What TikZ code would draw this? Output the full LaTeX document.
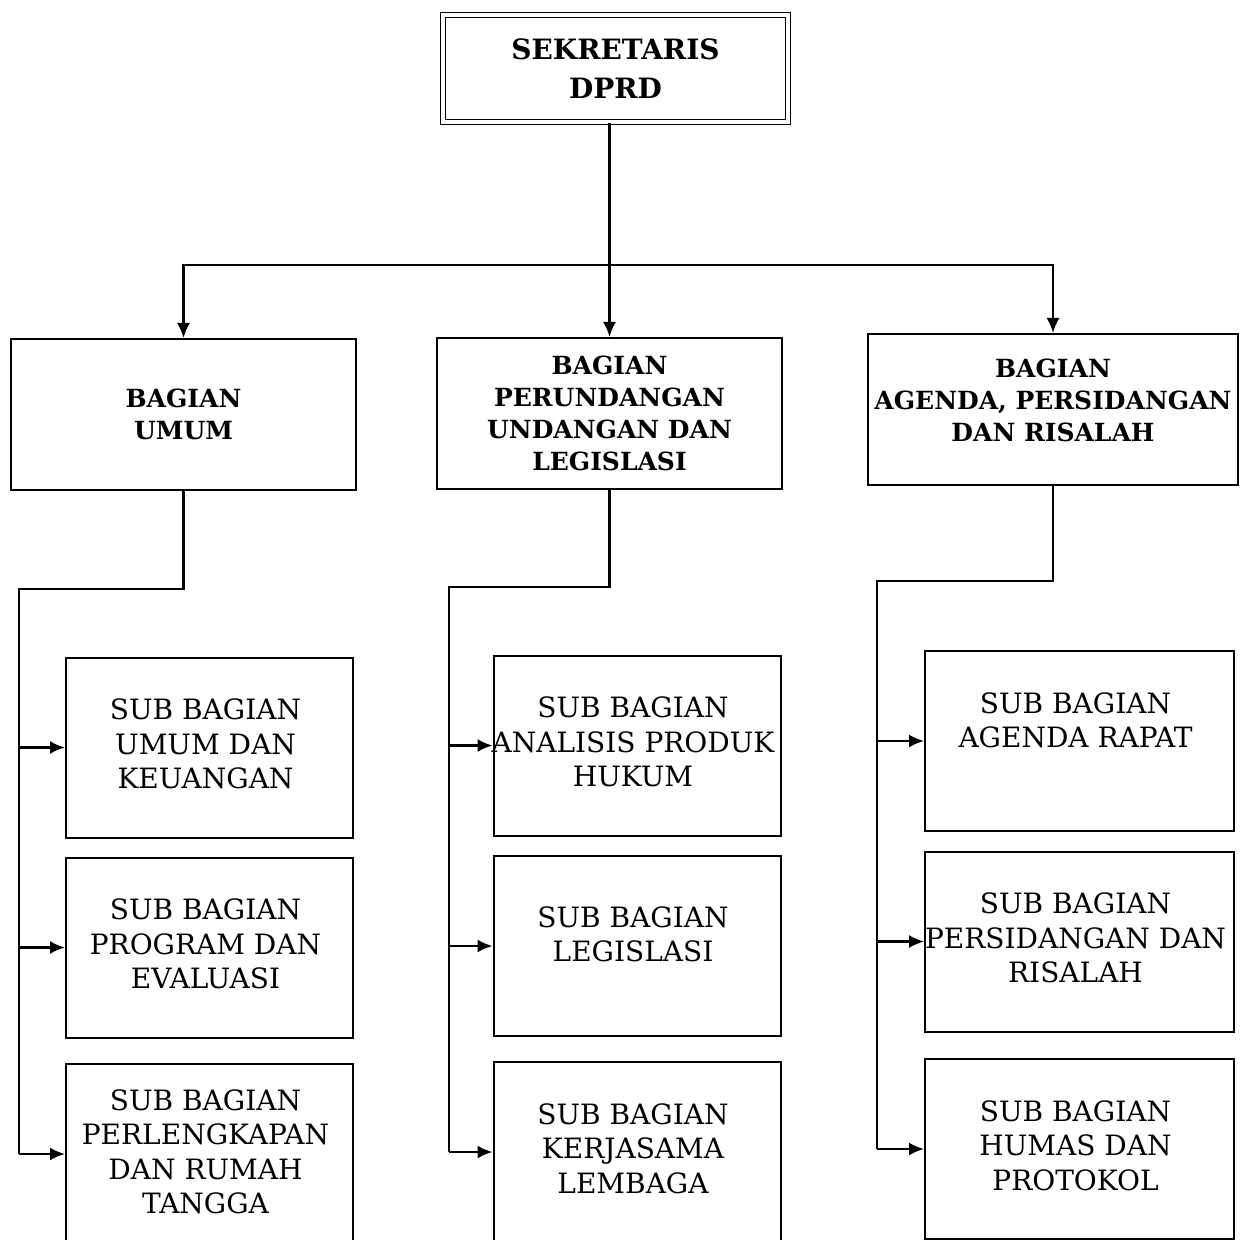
\documentclass[tikz,border=0pt]{standalone}
\usepackage{fontspec}
\setmainfont{DejaVu Serif}
\usetikzlibrary{positioning,arrows.meta}
\tikzset{
  bag/.style={draw, line width=1pt, minimum width=172.5pt, minimum height=75.5pt,
    inner sep=0pt, align=center, font=\bfseries\fontsize{12.5}{16}\selectfont},
  sub/.style={draw, line width=1pt, minimum width=143.5pt, minimum height=90pt, inner sep=0pt},
  subtext/.style={align=center, inner sep=0pt, xshift=-2pt, font=\fontsize{14}{17.25}\selectfont},
  arr/.style={-{Latex[length=7.5pt,width=6.5pt]}, line width=1.1pt},
  link/.style={line width=1.1pt}
}
\begin{document}
\begin{tikzpicture}[x=0.5pt,y=-0.5pt]
\useasboundingbox (0,0) rectangle (1240,1240);

\node[draw, double, line width=0.8pt, double distance=1.6pt, minimum width=172.5pt,
  minimum height=53.5pt, align=center, font=\bfseries\fontsize{14}{19.5}\selectfont]
  (sek) at (615.5,68.5) {SEKRETARIS\\DPRD};

\node[bag] (umum) at (183.5,414.5) {BAGIAN\\UMUM};
\node[bag] (perund) at (609.5,413.5) {BAGIAN\\PERUNDANGAN\\UNDANGAN DAN\\LEGISLASI};
\node[bag, minimum width=185pt] (agenda) at (1053,409.5) {BAGIAN\\AGENDA, PERSIDANGAN\\DAN RISALAH\\[-7pt]};

\node[sub] (sbkeu) at (209.5,747.5) {};
\node[sub] (sbprog) at (209.5,947.5) {};
\node[sub] (sbperl) at (209.5,1154) {};
\node[sub] (sbanalisis) at (637,745.5) {};
\node[sub] (sbleg) at (637,946) {};
\node[sub] (sbkerja) at (637,1152) {};
\node[sub, minimum width=154.5pt] (sbrapat) at (1079.5,741) {};
\node[sub, minimum width=154.5pt] (sbsidang) at (1079.5,941.5) {};
\node[sub, minimum width=154.5pt] (sbhumas) at (1079.5,1149) {};

\node[subtext, below=21pt of sbkeu.north] (tkeu) {SUB BAGIAN\\UMUM DAN\\KEUANGAN};
\node[subtext, below=21pt of sbprog.north] (tprog) {SUB BAGIAN\\PROGRAM DAN\\EVALUASI};
\node[subtext, below=13pt of sbperl.north] (tperl) {SUB BAGIAN\\PERLENGKAPAN\\DAN RUMAH\\TANGGA};
\node[subtext, below=21pt of sbanalisis.north] (tanalisis) {SUB BAGIAN\\ANALISIS PRODUK\\HUKUM};
\node[subtext, below=25.5pt of sbleg.north] (tleg) {SUB BAGIAN\\LEGISLASI};
\node[subtext, below=21pt of sbkerja.north] (tkerja) {SUB BAGIAN\\KERJASAMA\\LEMBAGA};
\node[subtext, below=21pt of sbrapat.north] (trapat) {SUB BAGIAN\\AGENDA RAPAT};
\node[subtext, below=21pt of sbsidang.north] (tsidang) {SUB BAGIAN\\PERSIDANGAN DAN\\RISALAH};
\node[subtext, below=21pt of sbhumas.north] (thumas) {SUB BAGIAN\\HUMAS DAN\\PROTOKOL};

\coordinate (bus) at (610,265);
\draw[arr] (perund.north |- sek.south) -- (perund.north);
\draw[arr] (bus) -| (umum.north);
\draw[arr] (bus) -| (agenda.north);

\coordinate (umumbus) at (19,589);
\coordinate (perundbus) at (449,587);
\coordinate (agendabus) at (877,581);
\draw[link] (umum.south) |- (umumbus) -- (umumbus |- sbperl.west);
\draw[link] (perund.south) |- (perundbus) -- (perundbus |- sbkerja.west);
\draw[link] (agenda.south) |- (agendabus) -- (agendabus |- sbhumas.west);
\foreach \n in {sbkeu,sbprog,sbperl}
  \draw[arr] (umumbus |- \n.west) -- (\n.west);
\foreach \n in {sbanalisis,sbleg,sbkerja}
  \draw[arr] (perundbus |- \n.west) -- (\n.west);
\foreach \n in {sbrapat,sbsidang,sbhumas}
  \draw[arr] (agendabus |- \n.west) -- (\n.west);
\end{tikzpicture}
\end{document}
